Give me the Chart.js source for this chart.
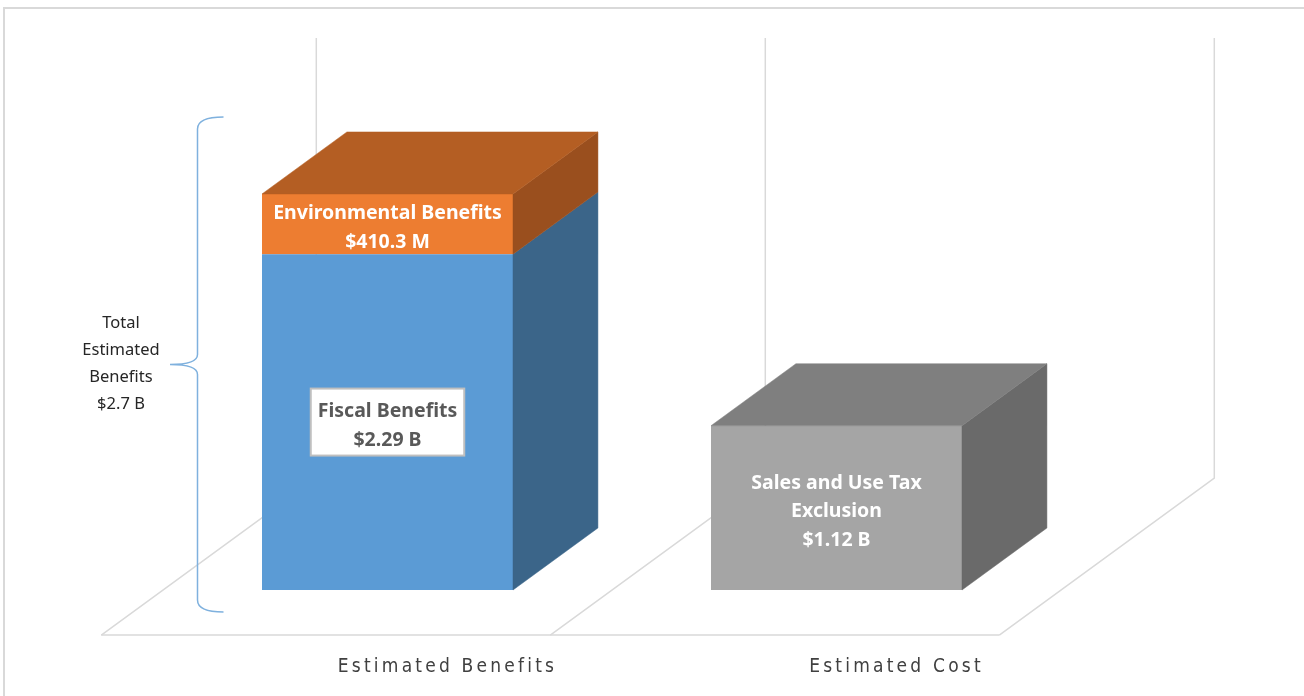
<!DOCTYPE html>
<html>
<head>
<meta charset="utf-8">
<script src="https://cdn.jsdelivr.net/npm/chart.js@4.4.1/dist/chart.umd.min.js"></script>
<style>
  html, body { margin: 0; padding: 0; background: #fff; }
  #wrap { width: 1304px; height: 696px; position: relative; }
</style>
</head>
<body>
<div id="wrap"><canvas id="benefitsCost"></canvas></div>
<script>
// categories and values, in billions of dollars
var categories = ['Estimated Benefits', 'Estimated Cost'];
var fiscalBenefits = [2.29, null];
var environmentalBenefits = [0.4103, null];
var salesUseTaxExclusion = [null, 1.12];
var valueRange = [0, 3];

// label texts shown on the bars
var fiscalText = ['Fiscal Benefits', '$2.29 B'];
var environmentalText = ['Environmental Benefits', '$410.3 M'];
var taxText = ['Sales and Use Tax', 'Exclusion', '$1.12 B'];
var totalText = ['Total', 'Estimated', 'Benefits', '$2.7 B'];

// fake 3d: full floor depth vector, where the bars sit in it and how deep they are
var depth = { x: 215, y: -157 };
var barStart = 0.287;
var barDepth = 0.395;
var gridColor = '#d9d9d9';

function shift(x, y, f) {
    return { x: x + depth.x * f, y: y + depth.y * f };
}

function fillPoly(ctx, pts, color) {
    ctx.beginPath();
    ctx.moveTo(pts[0][0], pts[0][1]);
    for (var i = 1; i < pts.length; i++) ctx.lineTo(pts[i][0], pts[i][1]);
    ctx.closePath();
    ctx.fillStyle = color;
    ctx.fill();
    ctx.strokeStyle = color;
    ctx.lineWidth = 0.5;
    ctx.stroke();
}

function isTopSegment(chart, di, i) {
    var sets = chart.data.datasets;
    for (var k = di + 1; k < sets.length; k++) {
        if (sets[k].data[i] != null) return false;
    }
    return true;
}

/**
 * Draws the floor, back wall, the side/top faces of the columns and all annotations.
 */
var box3d = {
    id: 'box3d',
    beforeDatasetsDraw: function (chart) {
        var ctx = chart.ctx, a = chart.chartArea, ys = chart.scales.y;
        var zero = ys.getPixelForValue(0), top = ys.getPixelForValue(ys.max);
        ctx.save();
        // outer frame of the picture
        ctx.strokeStyle = gridColor;
        ctx.lineWidth = 2;
        ctx.beginPath();
        ctx.moveTo(4, chart.height);
        ctx.lineTo(4, 8);
        ctx.lineTo(chart.width, 8);
        ctx.stroke();

        ctx.lineWidth = 1.5;
        var f0 = -barStart, f1 = 1 - barStart;
        // front edge of the floor
        var fl = shift(a.left, zero, f0), fr = shift(a.right, zero, f0);
        ctx.beginPath();
        ctx.moveTo(fl.x, fl.y);
        ctx.lineTo(fr.x, fr.y);
        ctx.stroke();
        // category separators: floor diagonal + back wall vertical
        var n = categories.length;
        for (var k = 0; k <= n; k++) {
            var x = a.left + k * a.width / n;
            var p0 = shift(x, zero, f0), p1 = shift(x, zero, f1), p2 = shift(x, top, f1);
            ctx.beginPath();
            ctx.moveTo(p0.x, p0.y);
            ctx.lineTo(p1.x, p1.y);
            ctx.lineTo(p2.x, p2.y);
            ctx.stroke();
        }
        ctx.restore();
    },
    afterDatasetsDraw: function (chart) {
        var ctx = chart.ctx, a = chart.chartArea, ys = chart.scales.y, xs = chart.scales.x;
        var d = { x: depth.x * barDepth, y: depth.y * barDepth };
        ctx.save();
        chart.data.datasets.forEach(function (ds, di) {
            var meta = chart.getDatasetMeta(di);
            meta.data.forEach(function (bar, i) {
                if (ds.data[i] == null) return;
                var p = bar.getProps(['x', 'y', 'base', 'width'], true);
                var l = p.x - p.width / 2, r = p.x + p.width / 2;
                fillPoly(ctx, [[r, p.y], [r + d.x, p.y + d.y], [r + d.x, p.base + d.y], [r, p.base]], ds.sideColor);
                if (isTopSegment(chart, di, i)) {
                    fillPoly(ctx, [[l, p.y], [r, p.y], [r + d.x, p.y + d.y], [l + d.x, p.y + d.y]], ds.topColor);
                }
            });
        });

        // labels on the front faces
        var lineH = 28.5;
        chart.data.datasets.forEach(function (ds, di) {
            var meta = chart.getDatasetMeta(di);
            meta.data.forEach(function (bar, i) {
                if (ds.data[i] == null) return;
                var p = bar.getProps(['x', 'y', 'base', 'width'], true);
                var cy = (p.y + p.base) / 2;
                var lines = ds.labelLines;
                ctx.font = 'bold 19.5px "Noto Sans", sans-serif';
                ctx.textAlign = 'center';
                ctx.textBaseline = 'middle';
                if (ds.boxed) {
                    var w = 0;
                    lines.forEach(function (t) { w = Math.max(w, ctx.measureText(t).width); });
                    var bw = w + 14, bh = lines.length * lineH + 10;
                    ctx.fillStyle = '#ffffff';
                    ctx.fillRect(p.x - bw / 2, cy - bh / 2, bw, bh);
                    ctx.strokeStyle = '#bfbfbf';
                    ctx.lineWidth = 2;
                    ctx.strokeRect(p.x - bw / 2, cy - bh / 2, bw, bh);
                }
                ctx.fillStyle = ds.labelColor;
                lines.forEach(function (t, k) {
                    ctx.fillText(t, p.x, cy + 4 + (k - (lines.length - 1) / 2) * lineH);
                });
            });
        });

        // brace with the total
        var zero = ys.getPixelForValue(0);
        var bx = a.left + 34.5, tipX = a.left + 7;
        var bt = a.top - 33, bb = a.bottom + 22, mid = (bt + bb) / 2;
        ctx.strokeStyle = '#7fb1de';
        ctx.lineWidth = 1.5;
        ctx.beginPath();
        ctx.moveTo(bx + 26, bt);
        ctx.quadraticCurveTo(bx, bt, bx, bt + 12);
        ctx.lineTo(bx, mid - 10);
        ctx.quadraticCurveTo(bx, mid, tipX, mid);
        ctx.quadraticCurveTo(bx, mid, bx, mid + 10);
        ctx.lineTo(bx, bb - 12);
        ctx.quadraticCurveTo(bx, bb, bx + 26, bb);
        ctx.stroke();

        ctx.font = '16.5px "Noto Sans", sans-serif';
        ctx.fillStyle = '#262626';
        ctx.textAlign = 'center';
        ctx.textBaseline = 'middle';
        totalText.forEach(function (t, k) {
            ctx.fillText(t, a.left - 42, mid - 41 + k * 27);
        });

        // category names under the floor
        ctx.font = '19px "Liberation Sans Narrow", "DejaVu Sans Condensed", sans-serif';
        ctx.fillStyle = '#404040';
        ctx.letterSpacing = '3.2px';
        categories.forEach(function (c, i) {
            ctx.fillText(c, xs.getPixelForValue(i) + 60, zero + 77);
        });
        ctx.restore();
    }
};

var chart = document.getElementById('benefitsCost').getContext('2d');

var benefitsChart = new Chart(chart, {
    type: 'bar',
    data: {
        labels: categories,
        datasets: [
            {
                label: 'Fiscal Benefits',
                data: fiscalBenefits,
                backgroundColor: '#5b9bd5',
                sideColor: '#3b6589',
                topColor: '#4a82b6',
                labelLines: fiscalText,
                labelColor: '#595959',
                boxed: true
            },
            {
                label: 'Environmental Benefits',
                data: environmentalBenefits,
                backgroundColor: '#ed7d31',
                sideColor: '#9a4f1e',
                topColor: '#b45e23',
                labelLines: environmentalText,
                labelColor: '#ffffff'
            },
            {
                label: 'Sales and Use Tax Exclusion',
                data: salesUseTaxExclusion,
                backgroundColor: '#a5a5a5',
                sideColor: '#6a6a6a',
                topColor: '#7f7f7f',
                labelLines: taxText,
                labelColor: '#ffffff'
            }
        ]
    },
    options: {
        responsive: true,
        maintainAspectRatio: false,
        animation: false,
        layout: { padding: { left: 163, right: 243, top: 150, bottom: 106 } },
        datasets: { bar: { barPercentage: 0.559, categoryPercentage: 1, borderWidth: 0 } },
        plugins: { legend: { display: false }, tooltip: { enabled: false } },
        scales: {
            x: { display: false, stacked: true },
            y: { display: false, stacked: true, min: valueRange[0], max: valueRange[1] }
        }
    },
    plugins: [box3d]
});
</script>
</body>
</html>
